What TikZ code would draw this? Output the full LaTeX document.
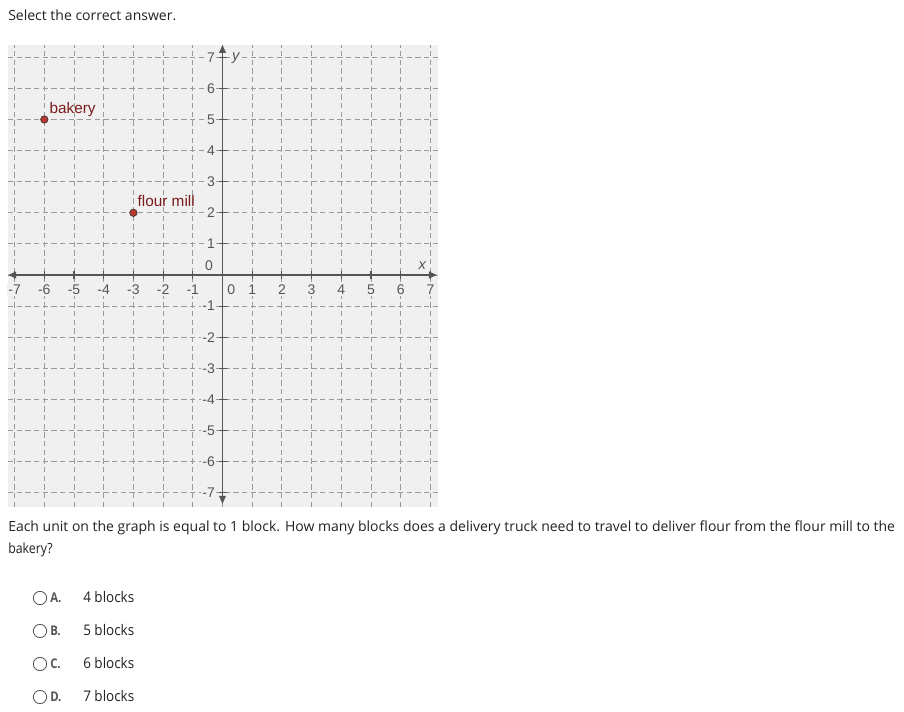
\documentclass[tikz,border=0pt]{standalone}
\usepackage{fontspec}
\usepackage{graphicx}
\setmainfont{Open Sans}
\newfontfamily\arialf{Liberation Sans}
\usetikzlibrary{arrows.meta}
\definecolor{gridbg}{HTML}{F0F0F0}
\definecolor{gridln}{HTML}{9A9A9A}
\definecolor{axisc}{HTML}{555555}
\definecolor{ptfill}{HTML}{B8392B}
\definecolor{ptdraw}{HTML}{4A3A3A}
\definecolor{lblred}{HTML}{7A1C1C}
\definecolor{txt}{HTML}{222222}
\tikzset{
  gridline/.style={gridln, line width=0.7pt, dash pattern=on 4pt off 2.5pt},
  axisline/.style={axisc, line width=0.9pt, {Triangle[length=6pt,width=5pt]}-{Triangle[length=6pt,width=5pt]}},
  tickmark/.style={axisc, line width=0.8pt},
  ticklbl/.style={font=\arialf\fontsize{10.5pt}{12pt}\selectfont, text=axisc, inner sep=1pt, fill=gridbg},
  ptdot/.style={circle, fill=ptfill, draw=ptdraw, line width=0.6pt, minimum size=5.5pt, inner sep=0pt},
  ptlbl/.style={font=\arialf\fontsize{11.5pt}{13pt}\selectfont, text=lblred, inner sep=0pt, anchor=base west},
  qtext/.style={font=\fontsize{10.5pt}{13pt}\selectfont, text=txt, inner sep=0pt, anchor=base west},
  radio/.style={circle, draw=axisc, line width=0.6pt, minimum size=10pt, inner sep=0pt},
}
\begin{document}
\begin{tikzpicture}[x=0.75pt,y=-0.75pt]
\useasboundingbox (0,0) rectangle (904,712);
\fill[white] (0,0) rectangle (904,712);
\node[qtext] (title) at (8,21) {\resizebox{126pt}{\height}{Select the correct answer.}};
\fill[gridbg] (8,45) rectangle (438,507);
\begin{scope}[x={(22.275pt,0pt)}, y={(0pt,23.325pt)}, shift={(166.875pt,-206.25pt)}]
  \foreach \i in {-7,...,7} {
    \draw[gridline] (\i,-7.46) -- (\i,7.4);
    \draw[gridline] (-7.22,\i) -- (7.26,\i);
  }
  \coordinate (xl) at (-7.22,0);
  \coordinate (xr) at (7.22,0);
  \coordinate (yb) at (0,-7.36);
  \coordinate (yt) at (0,7.4);
  \foreach \i in {-7,...,-1,1,2,...,7} {
    \node[ticklbl, anchor=north] (xt\i) at ([yshift=-6pt]\i,0) {\i};
    \node[ticklbl, anchor=east] (yt\i) at ([xshift=-4.5pt]0,\i) {\i};
  }
  \node[ticklbl, anchor=north] (xt0) at ([xshift=6.5pt,yshift=-6pt]0,0) {0};
  \node[ticklbl, anchor=south east] (yt0) at ([xshift=-6pt,yshift=2pt]0,0) {0};
  \node[ticklbl, font=\arialf\itshape\fontsize{11pt}{12pt}\selectfont, anchor=west] (ylab) at ([xshift=6pt,yshift=-1pt]0,7) {y};
  \node[ticklbl, font=\arialf\itshape\fontsize{11pt}{12pt}\selectfont, anchor=south] (xlab) at ([xshift=-6pt,yshift=3pt]7,0) {x};
  \draw[axisline] (xl) -- (xr);
  \draw[axisline] (yb) -- (yt);
  \foreach \i in {-7,...,-1,1,2,...,7} {
    \draw[tickmark] (\i,0) ++(0,-3pt) -- ++(0,6pt);
    \draw[tickmark] (0,\i) ++(-3pt,0) -- ++(6pt,0);
  }
  \node[ptdot] (bakery) at (-6,5) {};
  \node[ptdot] (mill) at (-3,2) {};
  \node[ptlbl] (bakerylbl) at ([xshift=3.75pt,yshift=4.5pt]bakery.center) {bakery};
  \node[ptlbl] (milllbl) at ([xshift=3pt,yshift=4.5pt]mill.center) {flour mill};
\end{scope}
\node[qtext] (q1) at (8,532) {\resizebox{665pt}{\height}{Each unit on the graph is equal to 1 block. How many blocks does a delivery truck need to travel to deliver flour from the flour mill to the}};
\node[qtext] (q2) at (8,554) {\scalebox{0.88}[1]{bakery?}};
\foreach \k/\l/\t [count=\n from 0] in {A/A./4 blocks, B/B./5 blocks, C/C./6 blocks, D/D./7 blocks} {
  \node[radio] (r\k) at (40,{598+33*\n}) {};
  \node[qtext, font=\bfseries\fontsize{10pt}{12pt}\selectfont, text=axisc] (l\k) at (50,{603+33*\n}) {\scalebox{0.85}[1]{\l}};
  \node[qtext, font=\fontsize{11pt}{13pt}\selectfont] (o\k) at (83,{603+33*\n}) {\scalebox{0.92}[1]{\t}};
}
\end{tikzpicture}
\end{document}
